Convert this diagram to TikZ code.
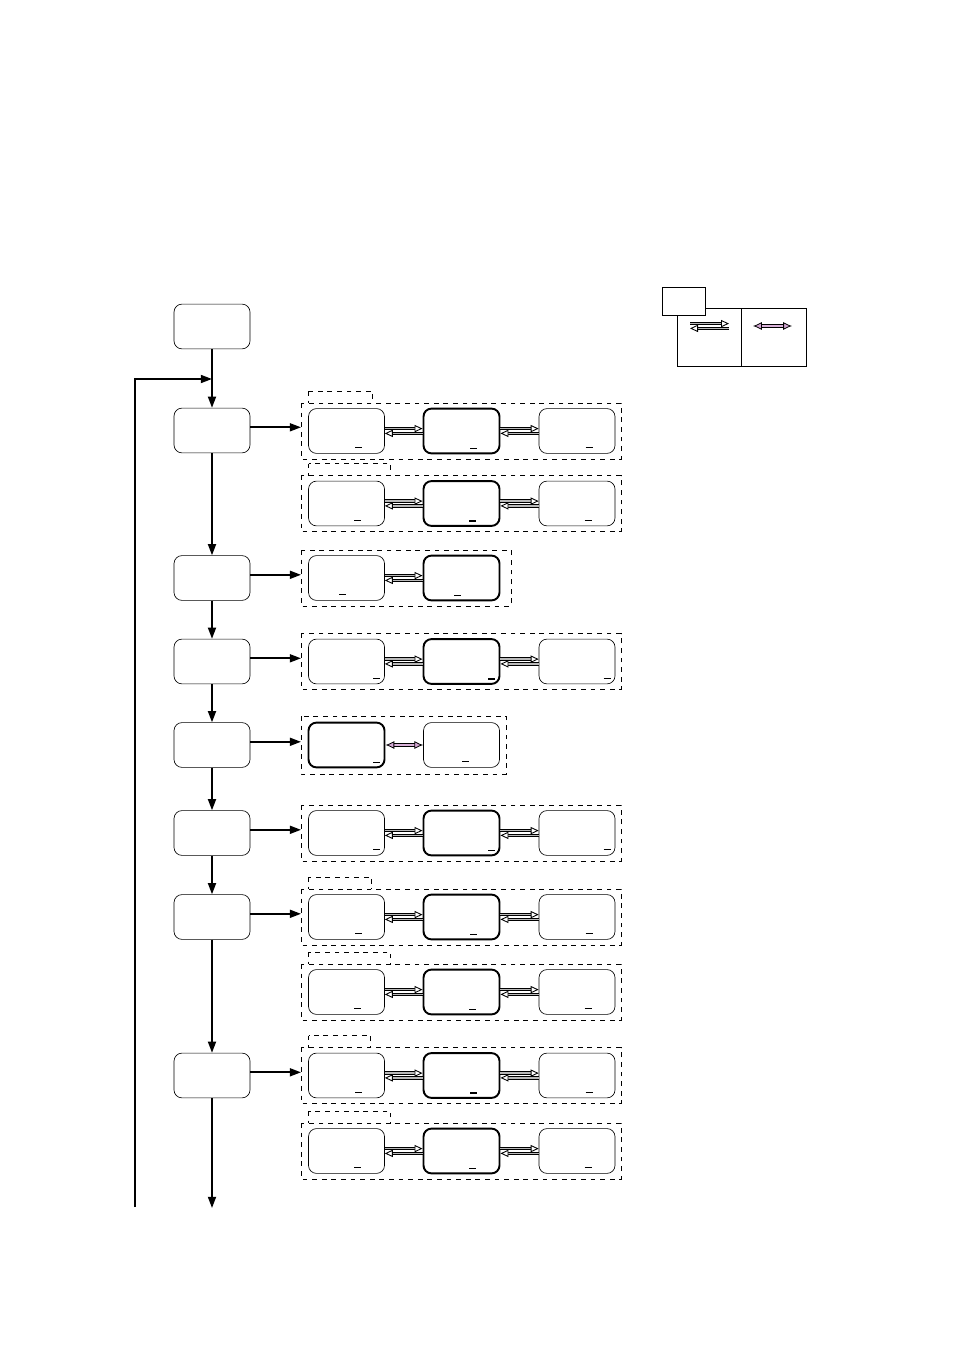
\documentclass[tikz,border=0pt]{standalone}
\usetikzlibrary{arrows.meta}

\begin{document}
\begin{tikzpicture}[x=0.625pt,y=-0.625pt]
      \tikzstyle{stepbox}=[draw, rounded corners=5pt, minimum width=47.5pt, minimum height=28pt, inner sep=0pt]
      \tikzstyle{statebox}=[stepbox, fill=white]
      \tikzstyle{active}=[statebox, line width=1.2pt]
      \tikzstyle{group}=[draw, dashed, thin]
      \tikzstyle{flow}=[line width=1.1pt, -{Triangle[length=7pt,width=5pt]}]
      \tikzstyle{swap}=[double=gray!55, double distance=1.1pt, line width=0.55pt, -{Triangle[open,fill=white,length=5pt,width=4.5pt]}]
      \tikzstyle{toggle}=[double=violet!30, double distance=1.2pt, line width=0.5pt, {Latex[fill=violet!35,length=5.5pt,width=5pt]}-{Latex[fill=violet!35,length=5.5pt,width=5pt]}]
      \useasboundingbox (0,0) rectangle (954,1348);

      % main column
      \node[stepbox] (s0) at (212,326.5) {};
      \node[stepbox] (s1) at (212,430.5) {};
      \node[stepbox] (s2) at (212,578) {};
      \node[stepbox] (s3) at (212,661.5) {};
      \node[stepbox] (s4) at (212,745) {};
      \node[stepbox] (s5) at (212,833) {};
      \node[stepbox] (s6) at (212,917) {};
      \node[stepbox] (s7) at (212,1075.5) {};
      \coordinate (loopin) at (212,379);
      \coordinate (loopbot) at (135,1207);
      \coordinate (exit) at (212,1208);
      \coordinate (gin) at (301,0);

      \draw[line width=1.1pt] (s0.south) -- (loopin);
      \draw[flow] (loopin) -- (s1.north);
      \draw[flow] (loopbot) |- (loopin);
      \draw[flow] (s1.south) -- (s2.north);
      \draw[flow] (s2) -- (s3);
      \draw[flow] (s3) -- (s4);
      \draw[flow] (s4) -- (s5);
      \draw[flow] (s5) -- (s6);
      \draw[flow] (s6) -- (s7);
      \draw[flow] (s7.south) -- (exit);

      % three-state groups: name / centre y / mark offset / tab width
      \foreach \g/\y/\u/\t in {ga/431/12/64, gb/503.5/11/82, gc/661.5/30/0, ge/833/30/0,
                               gf/917/12/63, gg/992/11/82, gh/1075.5/12/62, gi/1151/11/82} {
        \ifnum\t>0
          \draw[group] (308.5,\y-28-12) rectangle ++(\t,15);
        \fi
        \draw[group, fill=white] (301,\y-28) rectangle (621,\y+28);
        \node[statebox] (\g a) at (346.5,\y) {};
        \node[active]   (\g b) at (461.5,\y) {};
        \node[statebox] (\g c) at (577,\y) {};
        \foreach \b in {a,b,c}
          \draw[line width=0.9pt] (\g\b.south) ++(\u-3.5,-6) -- ++(7,0);
        \draw[swap] ([yshift=1.5pt]\g a.east) -- ([yshift=1.5pt]\g b.west);
        \draw[swap] ([yshift=-1.5pt]\g b.west) -- ([yshift=-1.5pt]\g a.east);
        \draw[swap] ([yshift=1.5pt]\g b.east) -- ([yshift=1.5pt]\g c.west);
        \draw[swap] ([yshift=-1.5pt]\g c.west) -- ([yshift=-1.5pt]\g b.east);
      }

      % two-state groups
      \draw[group] (301,550) rectangle (511,606);
      \node[statebox] (gda) at (346.5,578) {};
      \node[active]   (gdb) at (461.5,578) {};
      \draw[line width=0.9pt] (gda.south) ++(-7.5,-6) -- ++(7,0);
      \draw[line width=0.9pt] (gdb.south) ++(-7.5,-6) -- ++(7,0);
      \draw[swap] ([yshift=1.5pt]gda.east) -- ([yshift=1.5pt]gdb.west);
      \draw[swap] ([yshift=-1.5pt]gdb.west) -- ([yshift=-1.5pt]gda.east);

      \draw[group] (301,716) rectangle (506,774);
      \node[active]   (gka) at (346.5,745) {};
      \node[statebox] (gkb) at (461.5,745) {};
      \draw[line width=0.9pt] (gka.south) ++(26.5,-6) -- ++(7,0);
      \draw[line width=0.9pt] (gkb.south) ++(0.5,-6) -- ++(7,0);
      \draw[toggle] (gka.east) -- (gkb.west);

      % step to group arrows
      \foreach \s in {s1,s2,s3,s4,s5,s6,s7}
        \draw[flow] ([yshift=2pt]\s.east) -- ([yshift=2pt]\s.east -| gin);

      % legend
      \draw (677,308) rectangle (806,366);
      \draw (741,308) -- (741,366);
      \draw[fill=white] (662,287) rectangle (705,315);
      \coordinate (lg1) at (690,326);
      \coordinate (lg2) at (729,326);
      \draw[swap] ([yshift=1.5pt]lg1) -- ([yshift=1.5pt]lg2);
      \draw[swap] ([yshift=-1.5pt]lg2) -- ([yshift=-1.5pt]lg1);
      \coordinate (lg3) at (753,326);
      \coordinate (lg4) at (792,326);
      \draw[toggle] (lg3) -- (lg4);
\end{tikzpicture}
\end{document}
